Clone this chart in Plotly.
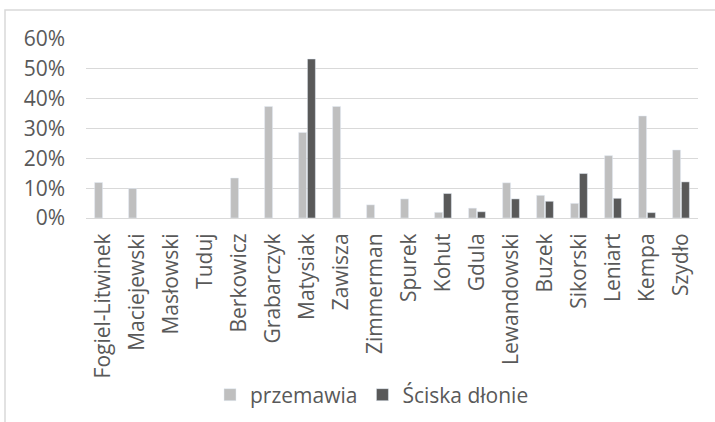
import plotly.graph_objects as go

categories = ["Fogiel-Litwinek", "Maciejewski", "Masłowski", "Tuduj", "Berkowicz",
              "Grabarczyk", "Matysiak", "Zawisza", "Zimmerman", "Spurek", "Kohut",
              "Gdula", "Lewandowski", "Buzek", "Sikorski", "Leniart", "Kempa", "Szydło"]
przemawia = [0.119, 0.099, None, None, 0.134, 0.374, 0.287, 0.374, 0.044, 0.064, 0.019,
             0.033, 0.118, 0.076, 0.049, 0.209, 0.342, 0.228]
sciska = [None, None, None, None, None, None, 0.533, None, None, None, 0.082,
          0.021, 0.064, 0.056, 0.149, 0.066, 0.018, 0.121]
y_ticks = [0, 0.1, 0.2, 0.3, 0.4, 0.5, 0.6]

W, H = 715, 422
L, R, T, B = 86, 17, 39, 204
PW, PH = W - L - R, H - T - B

def px_x(x):
    return (x - L) / PW

def px_y(y):
    return (H - B - y) / PH

font = dict(family="Open Sans, Segoe UI, sans-serif", size=21, color="#595959")

fig = go.Figure()
fig.add_trace(go.Bar(x=categories, y=przemawia, name="przemawia", marker_color="#bfbfbf"))
fig.add_trace(go.Bar(x=categories, y=sciska, name="Ściska dłonie", marker_color="#595959"))

fig.update_layout(
    width=W, height=H,
    margin=dict(l=L, r=R, t=T, b=B, pad=0, autoexpand=False),
    paper_bgcolor="white", plot_bgcolor="white",
    font=font,
    barmode="group", bargap=0.48, bargroupgap=0.1,
    showlegend=True,
    legend=dict(orientation="h", x=px_x(372), xanchor="center",
                yref="container", y=(H - 395) / H, yanchor="middle", font=font,
                bgcolor="rgba(0,0,0,0)", itemclick=False),
    xaxis=dict(tickangle=-90, showgrid=False, showline=True, linecolor="#d9d9d9",
               linewidth=1, ticks="", tickfont=font, ticklabelstandoff=6,
               automargin=False),
    yaxis=dict(range=[0, 0.6], tickvals=y_ticks, tickformat=".0%", showgrid=True,
               gridcolor="#d9d9d9", gridwidth=1, zeroline=False, showline=False,
               ticks="", tickfont=font, ticklabelstandoff=20, automargin=False),
    shapes=[dict(type="rect", xref="paper", yref="paper",
                 x0=px_x(5), x1=px_x(730), y0=px_y(440), y1=px_y(10),
                 line=dict(color="#d9d9d9", width=1.5), layer="below")],
)

fig.write_html("out.html")
